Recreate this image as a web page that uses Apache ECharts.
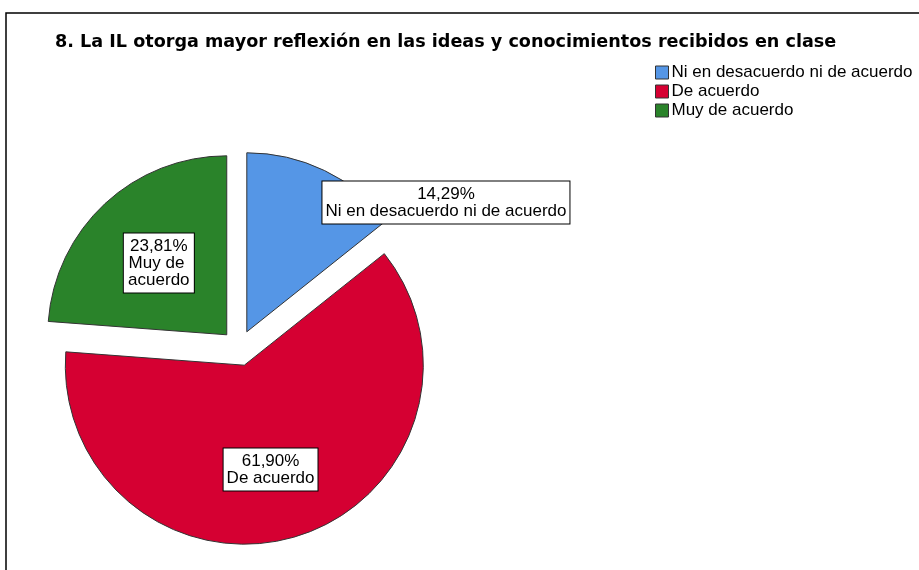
<!DOCTYPE html>
<html>
<head>
<meta charset="utf-8">
<script src="https://cdn.jsdelivr.net/npm/echarts@6/dist/echarts.min.js"></script>
<style>html,body{margin:0;padding:0;background:#fff}#c{width:919px;height:570px}</style>
</head>
<body>
<div id="c"></div>
<script>
var titleText = '8. La IL otorga mayor reflexión en las ideas y conocimientos recibidos en clase';
var categories = ['Ni en desacuerdo ni de acuerdo', 'De acuerdo', 'Muy de acuerdo'];
var percents = [14.29, 61.90, 23.81];
var colors = ['#5596E6', '#D50032', '#2A832A'];

var labelShift = [[159, -46], [-1, 16], [-5, -4]];
var labelWidths = [null, null, 64];

var chart = echarts.init(document.getElementById('c'), null, {renderer: 'canvas'});
var data = categories.map(function (name, i) {
  var item = {
    name: name,
    value: percents[i],
    selected: true,
    itemStyle: {color: colors[i]}
  };
  if (labelWidths[i]) {
    item.label = {width: labelWidths[i], overflow: 'break'};
  }
  return item;
});

chart.setOption({
  animation: false,
  title: {
    text: titleText,
    left: 50,
    top: 28,
    textStyle: {fontFamily: 'DejaVu Sans', fontWeight: 'bold', fontSize: 17.6, color: '#000'}
  },
  legend: {
    orient: 'vertical',
    left: 650,
    top: 59,
    itemWidth: 13,
    itemHeight: 13,
    itemGap: 2,
    selectedMode: false,
    icon: 'rect',
    data: categories,
    itemStyle: {borderColor: '#333', borderWidth: 1},
    textStyle: {fontFamily: 'Liberation Sans, Arial, sans-serif', fontSize: 17, color: '#000', padding: [0, 0, 0, -2]}
  },
  graphic: [{
    type: 'rect',
    shape: {x: 6, y: 13, width: 1000, height: 1000},
    style: {fill: 'none', stroke: '#000', lineWidth: 1.5},
    silent: true
  }],
  series: [{
    type: 'pie',
    center: [239, 348],
    radius: 179,
    startAngle: 90,
    clockwise: true,
    selectedMode: 'multiple',
    selectedOffset: 18,
    avoidLabelOverlap: false,
    itemStyle: {borderColor: '#333', borderWidth: 1},
    emphasis: {disabled: true},
    label: {
      show: true,
      position: 'inside',
      formatter: function (p) {
        return p.value.toFixed(2).replace('.', ',') + '%\n' + p.name;
      },
      fontFamily: 'Liberation Sans, Arial, sans-serif',
      fontSize: 17,
      lineHeight: 17,
      color: '#000',
      align: 'center',
      backgroundColor: '#fff',
      borderColor: '#000',
      borderWidth: 1,
      padding: [5, 3, 3, 3]
    },
    labelLine: {show: false},
    labelLayout: function (p) {
      var s = labelShift[p.dataIndex];
      return {dx: s[0], dy: s[1]};
    },
    data: data
  }]
});
</script>
</body>
</html>
